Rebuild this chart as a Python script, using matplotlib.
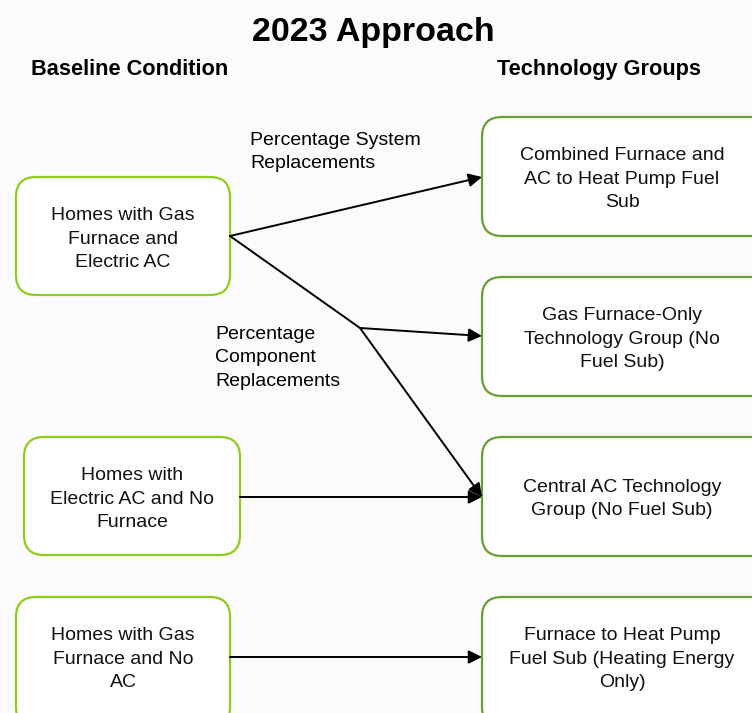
import matplotlib
matplotlib.use("Agg")
import matplotlib.pyplot as plt
from matplotlib.patches import FancyBboxPatch, FancyArrowPatch

plt.rcParams['font.family'] = ['Liberation Sans', 'DejaVu Sans']

# ---- content ----
title = "2023 Approach"
left_header = "Baseline Condition"
right_header = "Technology Groups"
baseline_labels = [
    "Homes with Gas\nFurnace and\nElectric AC",
    "Homes with\nElectric AC and No\nFurnace",
    "Homes with Gas\nFurnace and No\nAC",
]
tech_labels = [
    "Combined Furnace and\nAC to Heat Pump Fuel\nSub",
    "Gas Furnace-Only\nTechnology Group (No\nFuel Sub)",
    "Central AC Technology\nGroup (No Fuel Sub)",
    "Furnace to Heat Pump\nFuel Sub (Heating Energy\nOnly)",
]
system_label = "Percentage System\nReplacements"
component_label = "Percentage\nComponent\nReplacements"

# ---- layout (pixel coordinates) ----
W, H = 752, 713
left_boxes = [(16, 177, 214, 118), (24, 437, 216, 118), (16, 597, 214, 130)]
right_boxes = [(482, 117, 300, 119), (482, 277, 300, 119), (482, 437, 300, 119), (482, 597, 300, 130)]
left_color = "#8fcc1e"
right_color = "#6a9e34"
bg = "#fbfbfb"
LS = 1.5

fig = plt.figure(figsize=(W / 100, H / 100), dpi=100)
fig.patch.set_facecolor(bg)
ax = fig.add_axes([0, 0, 1, 1])
ax.set_xlim(0, W)
ax.set_ylim(H, 0)
ax.axis("off")

ax.text(373, 41, title, ha="center", va="baseline", fontsize=24.5, fontweight="bold")
ax.text(130, 75, left_header, ha="center", va="baseline", fontsize=15.7, fontweight="bold")
ax.text(599, 75, right_header, ha="center", va="baseline", fontsize=15.7, fontweight="bold")

def box(rect, color, label, cx=None):
    x, y, w, h = rect
    p = FancyBboxPatch((x, y), w, h, boxstyle="round,pad=0,rounding_size=20",
                       fc="white", ec=color, lw=1.6, zorder=2)
    ax.add_patch(p)
    if cx is None:
        cx = x + w / 2
    ax.text(cx, y + 62, label, ha="center", va="center", fontsize=14,
            linespacing=LS, zorder=3, color="#111111")

for r, lab in zip(left_boxes, baseline_labels):
    box(r, left_color, lab)
for r, lab in zip(right_boxes, tech_labels):
    box(r, right_color, lab, cx=622)

def arrow(p0, p1, head=True):
    a = FancyArrowPatch(p0, p1, arrowstyle="-|>" if head else "-",
                        mutation_scale=20, lw=1.4, color="black",
                        shrinkA=0, shrinkB=0, zorder=4)
    ax.add_patch(a)

src1 = (230, 236)
junction = (360, 328)
arrow(src1, (482, 177))
arrow(src1, junction, head=False)
arrow(junction, (482, 336))
arrow(junction, (482, 497))
arrow((240, 497), (482, 497))
arrow((230, 657), (482, 657))

ax.text(250, 152, system_label, ha="left", va="center", fontsize=14, linespacing=LS)
ax.text(215, 358, component_label, ha="left", va="center", fontsize=14, linespacing=LS)

fig.savefig("out.png", dpi=100, facecolor=fig.get_facecolor())
